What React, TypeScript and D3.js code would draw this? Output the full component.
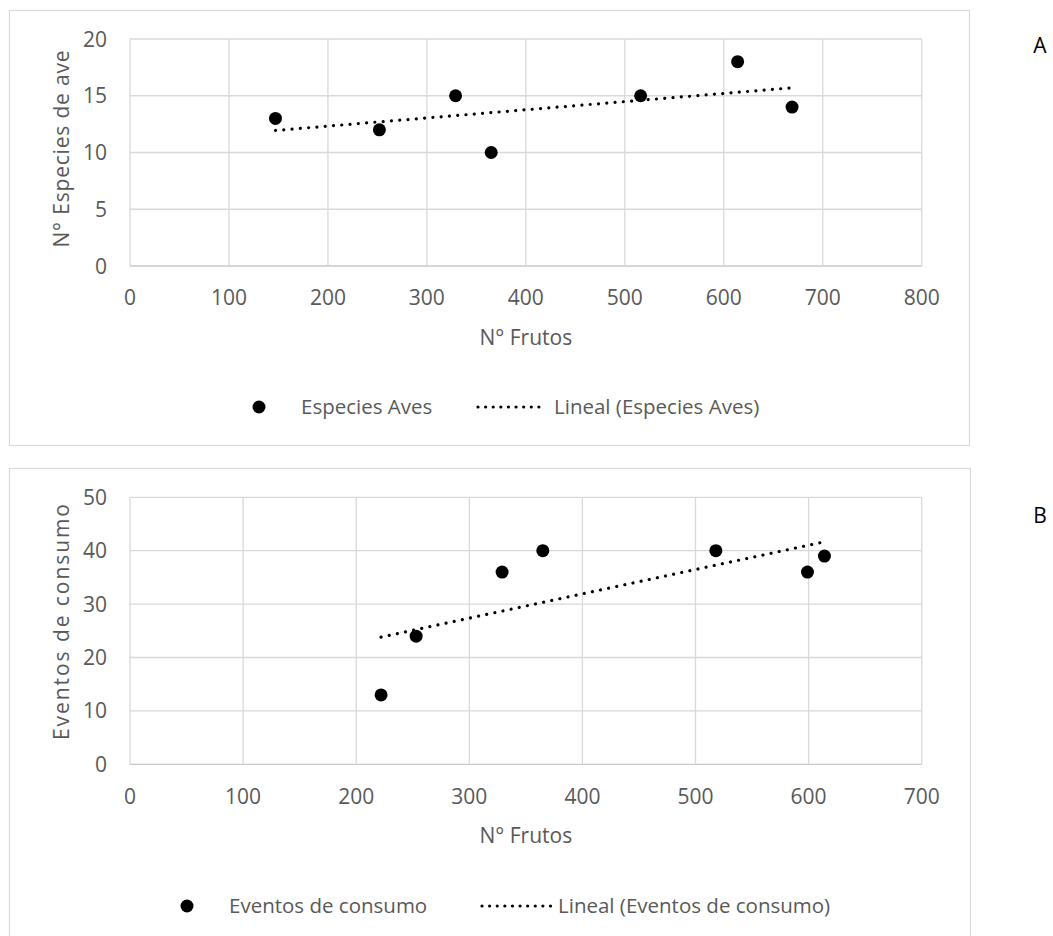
import React from "react";
import * as d3 from "d3";

// ---- Data ----
const frutosA = [147, 252, 329, 365, 516, 614, 669];
const especiesAves = [13, 12, 15, 10, 15, 18, 14];
const frutosB = [222, 253, 329, 365, 518, 599, 614];
const eventosConsumo = [13, 24, 36, 40, 40, 36, 39];

const xTicksA = [0, 100, 200, 300, 400, 500, 600, 700, 800];
const yTicksA = [0, 5, 10, 15, 20];
const xTicksB = [0, 100, 200, 300, 400, 500, 600, 700];
const yTicksB = [0, 10, 20, 30, 40, 50];

const FONT = "'Open Sans', sans-serif";
const TXT = "#595959";
const GRID = "#d9d9d9";

function linreg(xs: number[], ys: number[]) {
  const mx = d3.mean(xs)!;
  const my = d3.mean(ys)!;
  let sxy = 0, sxx = 0;
  xs.forEach((x, i) => {
    sxy += (x - mx) * (ys[i] - my);
    sxx += (x - mx) * (x - mx);
  });
  const slope = sxy / sxx;
  return { slope, intercept: my - slope * mx };
}

type PanelProps = {
  xs: number[];
  ys: number[];
  xTicks: number[];
  yTicks: number[];
  frame: [number, number, number, number];
  plot: { left: number; right: number; top: number; bottom: number };
  yTitle: string;
  yTitleLen: number;
  yTitleCenter: [number, number];
  xTitleY: number;
  xTickY: number;
  legendY: number;
  legend: { marker: number; text1: number; label1: string; line: [number, number]; text2: number; label2: string };
  letter: string;
  letterPos: [number, number];
};

function Panel(p: PanelProps) {
  const x = d3.scaleLinear().domain([p.xTicks[0], p.xTicks[p.xTicks.length - 1]]).range([p.plot.left, p.plot.right]);
  const y = d3.scaleLinear().domain([p.yTicks[0], p.yTicks[p.yTicks.length - 1]]).range([p.plot.bottom, p.plot.top]);
  const { slope, intercept } = linreg(p.xs, p.ys);
  const x0 = d3.min(p.xs)!;
  const x1 = d3.max(p.xs)!;
  const trend = d3.line<number>().x((d) => x(d)).y((d) => y(slope * d + intercept))([x0, x1]);
  const [fx, fy, fw, fh] = p.frame;
  const xMid = (p.plot.left + p.plot.right) / 2;
  return (
    <g>
      <rect x={fx + 0.5} y={fy + 0.5} width={fw} height={fh} fill="#fff" stroke={GRID} strokeWidth={1.2} />
      {p.yTicks.map((t) => (
        <line key={"h" + t} x1={p.plot.left} x2={p.plot.right} y1={y(t)} y2={y(t)} stroke={t === 0 ? "#c8c8c8" : GRID} strokeWidth={1.3} />
      ))}
      {p.xTicks.map((t) => (
        <line key={"v" + t} x1={x(t)} x2={x(t)} y1={p.plot.top} y2={p.plot.bottom} stroke={GRID} strokeWidth={1.3} />
      ))}
      {p.yTicks.map((t) => (
        <text key={"yt" + t} x={107} y={y(t)} dy="0.36em" textAnchor="end" fontFamily={FONT} fontSize={21} fill={TXT}>
          {t}
        </text>
      ))}
      {p.xTicks.map((t) => (
        <text key={"xt" + t} x={x(t)} y={p.xTickY} dy="0.36em" textAnchor="middle" fontFamily={FONT} fontSize={21} fill={TXT}>
          {t}
        </text>
      ))}
      <text
        transform={`translate(${p.yTitleCenter[0]},${p.yTitleCenter[1]}) rotate(-90)`}
        dy="0.36em"
        textAnchor="middle"
        fontFamily={FONT}
        fontSize={21}
        fill={TXT}
        textLength={p.yTitleLen}
        lengthAdjust="spacing"
      >
        {p.yTitle}
      </text>
      <text x={xMid} y={p.xTitleY} dy="0.36em" textAnchor="middle" fontFamily={FONT} fontSize={21} fill={TXT}>
        N° Frutos
      </text>
      <path d={trend || ""} fill="none" stroke="#000" strokeWidth={3.2} strokeLinecap="round" strokeDasharray="0.01 8.3" />
      {p.xs.map((v, i) => (
        <circle key={"c" + i} cx={x(v)} cy={y(p.ys[i])} r={6.5} fill="#000" />
      ))}
      {/* legend */}
      <circle cx={p.legend.marker} cy={p.legendY} r={6.5} fill="#000" />
      <text x={p.legend.text1} y={p.legendY} dy="0.36em" fontFamily={FONT} fontSize={20.5} fill={TXT}>
        {p.legend.label1}
      </text>
      <line
        x1={p.legend.line[0]}
        x2={p.legend.line[1]}
        y1={p.legendY}
        y2={p.legendY}
        stroke="#000"
        strokeWidth={3.2}
        strokeLinecap="round"
        strokeDasharray="0.01 7.6"
      />
      <text x={p.legend.text2} y={p.legendY} dy="0.36em" fontFamily={FONT} fontSize={20.5} fill={TXT}>
        {p.legend.label2}
      </text>
      <text x={p.letterPos[0]} y={p.letterPos[1]} dy="0.36em" textAnchor="middle" fontFamily={FONT} fontSize={21} fill="#000">
        {p.letter}
      </text>
    </g>
  );
}

export default function App() {
  return (
    <svg width={1053} height={936} style={{ position: "absolute", left: 0, top: 0, background: "#fff" }}>
      <rect width={1053} height={936} fill="#fff" />
      <Panel
        xs={frutosA}
        ys={especiesAves}
        xTicks={xTicksA}
        yTicks={yTicksA}
        frame={[9, 10, 960, 435]}
        plot={{ left: 130, right: 921.7, top: 39, bottom: 266 }}
        yTitle="N° Especies de ave"
        yTitleLen={197}
        yTitleCenter={[61, 149]}
        xTitleY={337}
        xTickY={297}
        legendY={407}
        legend={{ marker: 259, text1: 301, label1: "Especies Aves", line: [478, 546], text2: 554, label2: "Lineal (Especies Aves)" }}
        letter="A"
        letterPos={[1040, 45]}
      />
      <Panel
        xs={frutosB}
        ys={eventosConsumo}
        xTicks={xTicksB}
        yTicks={yTicksB}
        frame={[9, 468, 961, 480]}
        plot={{ left: 130, right: 921.7, top: 497.3, bottom: 764.3 }}
        yTitle="Eventos de consumo"
        yTitleLen={236}
        yTitleCenter={[61, 622]}
        xTitleY={835}
        xTickY={796}
        legendY={906}
        legend={{ marker: 187, text1: 229, label1: "Eventos de consumo", line: [482, 551], text2: 558, label2: "Lineal (Eventos de consumo)" }}
        letter="B"
        letterPos={[1040, 515]}
      />
    </svg>
  );
}
